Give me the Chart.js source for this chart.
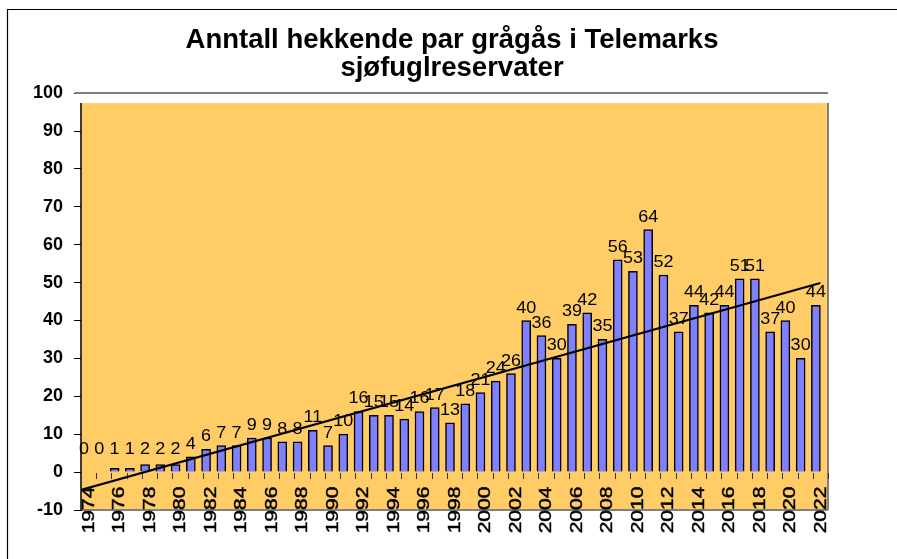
<!DOCTYPE html>
<html><head><meta charset="utf-8">
<script src="https://cdn.jsdelivr.net/npm/chart.js@4.4.0/dist/chart.umd.min.js"></script>
<style>html,body{margin:0;padding:0;background:#fff;}#wrap{width:897px;height:559px;position:relative;}</style>
</head><body><div id="wrap"><canvas id="c" width="897" height="559"></canvas></div>
<script>
const years = ['1974','1975','1976','1977','1978','1979','1980','1981','1982','1983','1984','1985','1986','1987','1988','1989','1990','1991','1992','1993','1994','1995','1996','1997','1998','1999','2000','2001','2002','2003','2004','2005','2006','2007','2008','2009','2010','2011','2012','2013','2014','2015','2016','2017','2018','2019','2020','2021','2022'];
const pairs = [0,0,1,1,2,2,2,4,6,7,7,9,9,8,8,11,7,10,16,15,15,14,16,17,13,18,21,24,26,40,36,30,39,42,35,56,53,64,52,37,44,42,44,51,51,37,40,30,44];
const xTickLabels = ['1974','1976','1978','1980','1982','1984','1986','1988','1990','1992','1994','1996','1998','2000','2002','2004','2006','2008','2010','2012','2014','2016','2018','2020','2022'];
const trendX = [-0.5, 48];
const trendY = [-4.7, 49.9];
const titleLines = ['Anntall hekkende par grågås i Telemarks', 'sjøfuglreservater'];
const FONT = '"Liberation Sans", Arial, Helvetica, sans-serif';

const decor = {
  id: 'decor',
  beforeDraw(chart) {
    const {ctx, chartArea: a} = chart;
    ctx.save();
    ctx.fillStyle = '#FFCC66';
    ctx.fillRect(a.left, a.top + 10, a.right - a.left, a.bottom - a.top - 10);
    ctx.restore();
  },
  beforeDatasetsDraw(chart) {
    const {ctx, chartArea: a, scales} = chart;
    ctx.save();
    ctx.strokeStyle = '#808080';
    ctx.lineWidth = 2;
    ctx.beginPath();
    ctx.moveTo(a.left - 6, a.top); ctx.lineTo(a.right, a.top);
    ctx.moveTo(a.right, a.top + 10); ctx.lineTo(a.right, a.bottom);
    ctx.moveTo(a.left, a.bottom); ctx.lineTo(a.right, a.bottom);
    ctx.stroke();
    ctx.strokeStyle = '#000';
    ctx.lineWidth = 1.5;
    ctx.beginPath();
    ctx.moveTo(a.left, a.top + 10); ctx.lineTo(a.left, a.bottom + 1);
    ctx.stroke();
    const y0 = scales.y.getPixelForValue(0);
    const w = (a.right - a.left) / years.length;
    ctx.strokeStyle = '#333';
    ctx.lineWidth = 1;
    ctx.beginPath();
    for (let i = 1; i <= years.length; i++) {
      const x = Math.round(a.left + i * w) + 0.5;
      ctx.moveTo(x, y0 + 1); ctx.lineTo(x, y0 + 7);
    }
    ctx.stroke();
    ctx.restore();
  },
  afterDatasetDraw(chart, args) {
    if (args.index !== 0) return;
    const {ctx, scales} = chart;
    const meta = chart.getDatasetMeta(0);
    const y0 = scales.y.getPixelForValue(0);
    ctx.save();
    ctx.fillStyle = '#000';
    ctx.font = '18px ' + FONT;
    ctx.textAlign = 'center';
    ctx.textBaseline = 'alphabetic';
    meta.data.forEach((bar, i) => {
      const yb = Math.min(bar.y - 8, y0 - 18);
      ctx.save();
      ctx.translate(bar.x, yb);
      ctx.scale(1, 0.87);
      ctx.fillText(String(pairs[i]), 0, 0);
      ctx.restore();
    });
    ctx.restore();
  },
  afterDraw(chart) {
    const {ctx, chartArea: a, scales} = chart;
    ctx.save();
    ctx.fillStyle = '#000';
    ctx.font = '21px ' + FONT;
    ctx.textAlign = 'center';
    ctx.textBaseline = 'middle';
    xTickLabels.forEach(lbl => {
      const idx = years.indexOf(lbl);
      const x = scales.x.getPixelForValue(idx);
      ctx.save();
      ctx.translate(x, a.bottom);
      ctx.rotate(-Math.PI / 2);
      ctx.scale(1, 0.76);
      ctx.fillText(lbl, 0, 1);
      ctx.strokeStyle = '#000';
      ctx.lineWidth = 0.6;
      ctx.strokeText(lbl, 0, 1);
      ctx.restore();
    });
    ctx.strokeStyle = '#000';
    ctx.lineWidth = 1.2;
    ctx.beginPath();
    ctx.moveTo(7.5, 559); ctx.lineTo(7.5, 9.5); ctx.lineTo(897, 9.5);
    ctx.stroke();
    ctx.restore();
  }
};

new Chart(document.getElementById('c'), {
  type: 'bar',
  data: {
    labels: years,
    datasets: [
      {
        type: 'bar', data: pairs, xAxisID: 'x', yAxisID: 'y',
        backgroundColor: '#8080FF', borderColor: '#000', borderWidth: 1.5,
        barThickness: 9, order: 2
      },
      {
        type: 'line', data: trendX.map((x, i) => ({x: x, y: trendY[i]})),
        xAxisID: 'x2', yAxisID: 'y', borderColor: '#000', borderWidth: 2,
        pointRadius: 0, fill: false, tension: 0, order: 1
      }
    ]
  },
  options: {
    responsive: false, animation: false, devicePixelRatio: 1,
    layout: {padding: {left: 7, right: 0, top: 0, bottom: 0}},
    plugins: {
      legend: {display: false}, tooltip: {enabled: false},
      title: {
        display: true, text: titleLines, color: '#000',
        font: {family: FONT, size: 27.5, weight: 'bold', lineHeight: 1.02},
        padding: {top: 26, bottom: 11}
      }
    },
    scales: {
      x: {
        type: 'category', offset: true,
        grid: {display: false}, border: {display: false}, ticks: {display: false},
        afterFit(s) { s.height = 49; }
      },
      x2: {type: 'linear', display: false, offset: false, grid: {offset: false}, min: -0.5, max: 48.5},
      y: {
        type: 'linear', min: -10, max: 100,
        ticks: {stepSize: 10, color: '#000', padding: 11, font: {family: FONT, size: 18, weight: 'bold'}},
        grid: {drawOnChartArea: false, tickLength: 7, color: '#000', tickWidth: 1},
        border: {display: false},
        afterFit(s) { s.width = 74; }
      },
      yR: {
        type: 'linear', position: 'right', display: true,
        ticks: {display: false}, grid: {display: false}, border: {display: false},
        afterFit(s) { s.width = 69; }
      }
    }
  },
  plugins: [decor]
});
</script></body></html>
